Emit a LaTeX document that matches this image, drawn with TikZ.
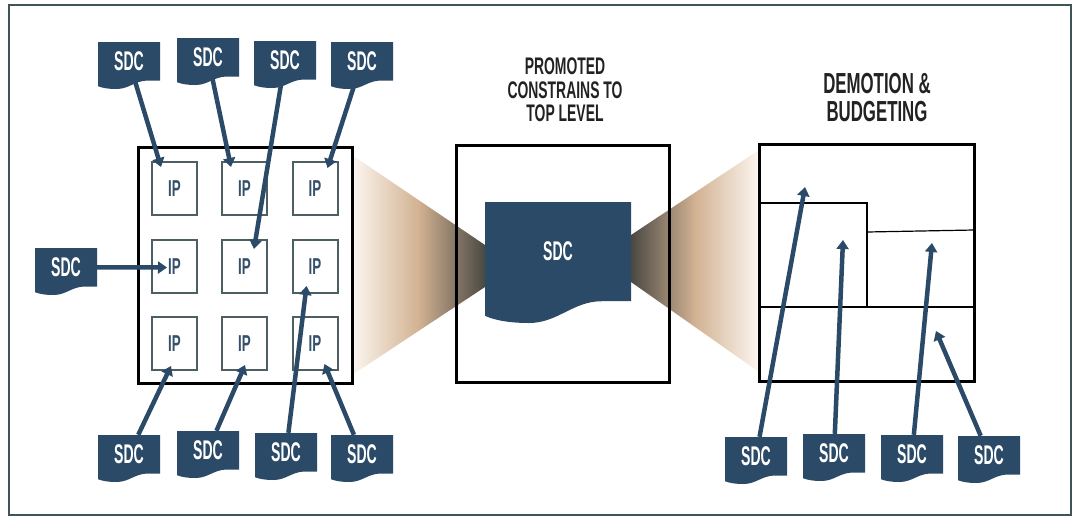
\documentclass[tikz,border=0pt]{standalone}
\usepackage{fontspec}
\usepackage{xcolor}
\usepackage{tikz}
\usetikzlibrary{
    positioning,
    arrows.meta,
    calc
}
\newfontfamily\sdcfont[FakeStretch=0.52]{Liberation Sans}
\newfontfamily\headfont[FakeStretch=0.58]{Liberation Sans}
\definecolor{sdcBlue}{RGB}{43, 74, 103}
\definecolor{ipGray}{RGB}{78, 95, 99}
\definecolor{ipText}{RGB}{52, 80, 106}
\definecolor{frameGray}{RGB}{63, 84, 89}
\definecolor{beamLight}{RGB}{252, 246, 240}
\definecolor{beamMid}{RGB}{210, 178, 146}
\definecolor{beamDark}{RGB}{74, 72, 67}
\definecolor{headText}{RGB}{34, 34, 34}

% SDC sheet: name, left, top, width, height
\newcommand{\sdcdoc}[5]{%
    \begin{scope}[shift={(#2,#3)}]
        \fill[sdcBlue] (0,0) -- (#4,0) -- (#4,0.82*#5) -- (0.8*#4,0.82*#5)
            .. controls (0.6*#4,0.82*#5) and (0.5*#4,#5) .. (0.3*#4,#5)
            .. controls (0.15*#4,#5) and (0.05*#4,0.97*#5) .. (0,0.94*#5) -- cycle;
        \node[sdclabel, minimum width=#4, minimum height=0.82*#5] (#1) at (0.5*#4,0.41*#5) {SDC};
    \end{scope}}

\tikzset{
    sdclabel/.style={inner sep=0pt, text=white, font=\sdcfont\bfseries\fontsize{27}{27}\selectfont},
    ipbox/.style={draw=ipGray, line width=2pt, minimum width=45, minimum height=53, inner sep=0pt,
        text=ipText, font=\headfont\bfseries\fontsize{23}{23}\selectfont},
    bigbox/.style={draw=black, line width=3pt, minimum width=214, minimum height=236, inner sep=0pt},
    heading/.style={align=center, text=headText, font=\headfont\bfseries},
    sdcarrow/.style={-{Triangle[length=9pt, width=12pt]}, line width=4.5pt, sdcBlue},
    partline/.style={line width=1.2pt, black}
}

\begin{document}
\begin{tikzpicture}[x=1pt, y=-1pt]
        \useasboundingbox (0,0) rectangle (1080,531);
        \draw[frameGray, line width=2.5pt] (9,5) rectangle (1071,515);

        % Beams
        \shade[left color=beamLight, right color=beamDark, middle color=beamMid]
            (352,155) -- (485,245) -- (485,287) -- (352,375) -- cycle;
        \shade[left color=beamDark, right color=beamLight, middle color=beamMid]
            (631,235) -- (759,150) -- (759,372) -- (631,282) -- cycle;

        % Boxes
        \node[bigbox, fill=white] (blocks) at (245,265) {};
        \node[bigbox, minimum width=213, minimum height=237] (top) at (562.5,263.5) {};
        \node[bigbox, fill=white, minimum width=215, minimum height=237] (budget) at (866.5,262.5) {};

        \foreach \r/\y in {1/188.5, 2/266.5, 3/343.5}
            \foreach \c/\x in {1/174.5, 2/244.5, 3/315}
                \node[ipbox] (ip\r\c) at (\x,\y) {IP};

        % Budget partitions
        \draw[partline] (759,203) -- (867,203) -- (867,307);
        \draw[partline] (867,232) -- (974,230);
        \draw[partline] (759,307) -- (974,307);

        % Headings
        \node[heading, font=\headfont\bfseries\fontsize{24}{23.5}\selectfont] (promo) at (565,90)
            {PROMOTED\\CONSTRAINS TO\\TOP LEVEL};
        \node[heading, font=\headfont\bfseries\fontsize{29}{28}\selectfont] (demo) at (877,98)
            {DEMOTION \&\\BUDGETING};

        % SDC sheets
        \sdcdoc{t1}{98}{42}{62}{47}
        \sdcdoc{t2}{177}{38}{62}{47}
        \sdcdoc{t3}{254}{41}{62}{47}
        \sdcdoc{t4}{331}{42}{62}{47}
        \sdcdoc{l1}{35}{248}{62}{47}
        \sdcdoc{b1}{98}{435}{62}{47}
        \sdcdoc{b2}{177}{431}{62}{47}
        \sdcdoc{b3}{255}{433}{62}{47}
        \sdcdoc{b4}{331}{435}{62}{47}
        \sdcdoc{r1}{725}{437}{62}{47}
        \sdcdoc{r2}{803}{434}{62}{47}
        \sdcdoc{r3}{881}{435}{62}{47}
        \sdcdoc{r4}{958}{436}{62}{47}
        \sdcdoc{big}{485}{202}{146}{121}

        % Budget targets
        \coordinate (k1) at (805,187);
        \coordinate (k2) at (843,240);
        \coordinate (k3) at (932,243);
        \coordinate (k4) at (936,331);

        % Arrows
        \draw[sdcarrow] (t1) -- ($(ip11.north west)+(10,6)$);
        \draw[sdcarrow] (t2) -- ($(ip12.north west)+(10,6)$);
        \draw[sdcarrow] (t3) -- ($(ip22.north west)+(33,10)$);
        \draw[sdcarrow] (t4) -- ($(ip13.north east)+(-11,7)$);
        \draw[sdcarrow] (l1) -- ($(ip21.west)+(16,1)$);
        \draw[sdcarrow] (b1) -- ($(ip31.south west)+(20,-5)$);
        \draw[sdcarrow] (b2) -- ($(ip32.south west)+(24,-6)$);
        \draw[sdcarrow] (b3) -- ($(ip23.south west)+(15,-8)$);
        \draw[sdcarrow] (b4) -- ($(ip33.south west)+(33,-7)$);
        \draw[sdcarrow] (r1) -- (k1);
        \draw[sdcarrow] (r2) -- (k2);
        \draw[sdcarrow] (r3) -- (k3);
        \draw[sdcarrow] (r4) -- (k4);
    \end{tikzpicture}
\end{document}
